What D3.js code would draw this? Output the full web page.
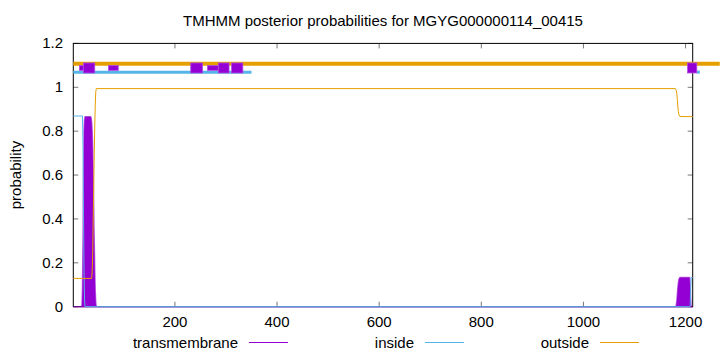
<!DOCTYPE html>
<html>
<head>
<meta charset="utf-8">
<script src="https://cdn.jsdelivr.net/npm/d3@7"></script>
<style>
  body { margin: 0; background: #fff; }
  svg { display: block; font-family: "Liberation Sans", Arial, sans-serif; }
</style>
</head>
<body>
<svg id="chart" width="720" height="352"></svg>
<script>
// sequence and axis setup
const seqLength = 1214;
const xTicks = [200, 400, 600, 800, 1000, 1200];
const yTicks = [0, 0.2, 0.4, 0.6, 0.8, 1, 1.2];

// posterior probabilities [residue, p]
const tmProb = [[1, 0], [17, 0], [18, 0.01], [19, 0.08], [20, 0.3], [21, 0.6], [22, 0.8], [23, 0.85],
    [24, 0.866], [35, 0.866], [36, 0.86], [37, 0.84], [38, 0.8], [39, 0.72], [40, 0.6], [41, 0.45],
    [42, 0.3], [43, 0.17], [44, 0.07], [45, 0.02], [46, 0], [1181, 0], [1182, 0.01], [1183, 0.03],
    [1184, 0.06], [1185, 0.09], [1186, 0.11], [1187, 0.125], [1189, 0.133], [1208, 0.133],
    [1209, 0.09], [1210, 0.04], [1211, 0], [1214, 0]];
const insideProb = [[1, 0.869], [19, 0.869], [20, 0.72], [21, 0.42], [22, 0.16], [23, 0.03], [24, 0],
    [1209, 0], [1210, 0.07], [1211, 0.133], [1214, 0.133]];
const outsideProb = [[1, 0.129], [37, 0.129], [38, 0.16], [39, 0.25], [40, 0.4], [41, 0.55], [42, 0.7],
    [43, 0.82], [44, 0.92], [45, 0.98], [46, 0.994], [1180, 0.994], [1182, 0.985], [1183, 0.97],
    [1184, 0.94], [1185, 0.91], [1186, 0.89], [1187, 0.875], [1189, 0.867], [1214, 0.866]];

// predicted topology bars at the top [start, end]
const outsideTop = [[1, 1267]];
const insideTop = [[1, 350], [1222, 1228]];
const tmTopWide = [[21, 43], [231, 254], [285, 306], [311, 333], [1204, 1222]];
const tmTopNarrow = [[13, 21], [70, 89], [264, 285]];

const colTM = "#9400d3", colIn = "#56b4e9", colOut = "#e69f00";

const svg = d3.select("#chart");
const margin = { left: 73.3, right: 27.3, top: 43.4, bottom: 45.3 };
const W = 720, H = 352;
const fs = 15;

const x = d3.scaleLinear().domain([1, seqLength]).range([margin.left, W - margin.right]);
const y = d3.scaleLinear().domain([0, 1.2]).range([H - margin.bottom, margin.top]);

// title
svg.append("text")
    .attr("x", 383).attr("y", 26)
    .attr("text-anchor", "middle")
    .attr("font-size", fs)
    .text("TMHMM posterior probabilities for MGYG000000114_00415");

// y label
svg.append("text")
    .attr("transform", "translate(21," + y(0.6) + ") rotate(-90)")
    .attr("text-anchor", "middle")
    .attr("font-size", fs)
    .text("probability");

// tick marks (mirrored, inward)
const tickG = svg.append("g").attr("stroke", "#777").attr("stroke-width", 1);
yTicks.forEach(t => {
    tickG.append("line").attr("x1", x.range()[0]).attr("x2", x.range()[0] + 5).attr("y1", y(t)).attr("y2", y(t));
    tickG.append("line").attr("x1", x.range()[1]).attr("x2", x.range()[1] - 5).attr("y1", y(t)).attr("y2", y(t));
});
xTicks.forEach(t => {
    tickG.append("line").attr("x1", x(t)).attr("x2", x(t)).attr("y1", y(0)).attr("y2", y(0) - 5);
    tickG.append("line").attr("x1", x(t)).attr("x2", x(t)).attr("y1", y(1.2)).attr("y2", y(1.2) + 5);
});

// tick labels
svg.append("g").selectAll("text").data(yTicks).join("text")
    .attr("x", 63).attr("y", d => y(d) + 5)
    .attr("text-anchor", "end")
    .attr("font-size", fs)
    .text(d => d3.format("~g")(d));
svg.append("g").selectAll("text").data(xTicks).join("text")
    .attr("x", d => x(d)).attr("y", 327)
    .attr("text-anchor", "middle")
    .attr("font-size", fs)
    .text(d => d);

// border
svg.append("rect")
    .attr("x", x.range()[0]).attr("y", y(1.2))
    .attr("width", x.range()[1] - x.range()[0]).attr("height", y(0) - y(1.2))
    .attr("fill", "none").attr("stroke", "#000").attr("stroke-width", 1);

// transmembrane as filled impulses
const area = d3.area().x(d => x(d[0])).y0(y(0)).y1(d => y(d[1]));
svg.append("path").datum(tmProb)
    .attr("d", area)
    .attr("fill", colTM)
    .attr("stroke", colTM).attr("stroke-opacity", 0.6).attr("stroke-width", 1.5);

const line = d3.line().x(d => x(d[0])).y(d => y(d[1]));
svg.append("path").datum(insideProb)
    .attr("d", line).attr("fill", "none").attr("stroke", colIn).attr("stroke-width", 1);
svg.append("path").datum(outsideProb)
    .attr("d", line).attr("fill", "none").attr("stroke", colOut).attr("stroke-width", 1);

// topology bars
svg.append("g").selectAll("line").data(outsideTop).join("line")
    .attr("x1", d => x(d[0])).attr("x2", d => x(d[1]))
    .attr("y1", y(1.107)).attr("y2", y(1.107))
    .attr("stroke", colOut).attr("stroke-width", 4);
svg.append("g").selectAll("line").data(insideTop).join("line")
    .attr("x1", d => x(d[0])).attr("x2", d => x(d[1]))
    .attr("y1", y(1.069)).attr("y2", y(1.069))
    .attr("stroke", colIn).attr("stroke-width", 3);
svg.append("g").selectAll("rect").data(tmTopNarrow).join("rect")
    .attr("x", d => x(d[0])).attr("width", d => x(d[1]) - x(d[0]))
    .attr("y", y(1.088) - 2.4).attr("height", 4.8)
    .attr("fill", colTM).attr("stroke", "#b04ae0").attr("stroke-width", 0.8);
svg.append("g").selectAll("rect").data(tmTopWide).join("rect")
    .attr("x", d => x(d[0])).attr("width", d => x(d[1]) - x(d[0]))
    .attr("y", y(1.088) - 5).attr("height", 10)
    .attr("fill", colTM).attr("stroke", "#b04ae0").attr("stroke-width", 0.8);

// legend
const legend = [["transmembrane", colTM, 238], ["inside", colIn, 414], ["outside", colOut, 589]];
legend.forEach(([label, c, tx]) => {
    svg.append("text").attr("x", tx).attr("y", 347.5).attr("text-anchor", "end")
        .attr("font-size", fs).text(label);
    svg.append("line").attr("x1", tx + 11).attr("x2", tx + 50)
        .attr("y1", 342.5).attr("y2", 342.5)
        .attr("stroke", c).attr("stroke-width", 1);
});
</script>
</body>
</html>
